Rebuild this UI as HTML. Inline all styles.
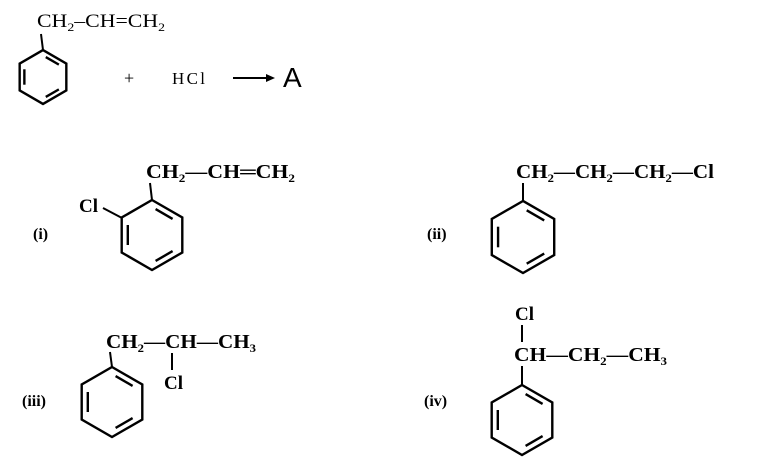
<!DOCTYPE html>
<html><head><meta charset="utf-8"><style>
html,body{margin:0;padding:0;background:#fff}
svg{display:block}
text{font-family:"Liberation Serif",serif;fill:#000}
</style></head><body>
<svg width="765" height="468" viewBox="0 0 765 468" xmlns="http://www.w3.org/2000/svg">
<defs>
<g id="bz" fill="none" stroke="#000" stroke-width="2.4">
<polygon points="0,-35 30.3,-17.5 30.3,17.5 0,35 -30.3,17.5 -30.3,-17.5" vector-effect="non-scaling-stroke"/>
<line x1="3.6" y1="-25.9" x2="20.6" y2="-16.1" vector-effect="non-scaling-stroke"/>
<line x1="-24.2" y1="-10" x2="-24.2" y2="10" vector-effect="non-scaling-stroke"/>
<line x1="20.6" y1="16.1" x2="3.6" y2="25.9" vector-effect="non-scaling-stroke"/>
</g>
</defs>
<g stroke="#000" stroke-width="2" fill="none">
<line x1="43" y1="50" x2="41" y2="34"/>
<line x1="233" y1="78" x2="268" y2="78"/>
<line x1="103" y1="208" x2="122" y2="218"/>
<line x1="152" y1="200" x2="150" y2="183"/>
<line x1="523" y1="201" x2="523" y2="183"/>
<line x1="112" y1="367" x2="110" y2="352"/>
<line x1="172" y1="353" x2="172" y2="370"/>
<line x1="522" y1="325" x2="522" y2="342"/>
<line x1="522" y1="385" x2="522" y2="366"/>
</g>
<polygon points="275,78 266,74 266,82" fill="#000"/>
<use href="#bz" transform="translate(43,77) scale(0.77)"/>
<use href="#bz" transform="translate(152,235)"/>
<use href="#bz" transform="translate(523,237) scale(1.03)"/>
<use href="#bz" transform="translate(112,402)"/>
<use href="#bz" transform="translate(522,420)"/>

<text x="37" y="27" font-size="19" textLength="128" lengthAdjust="spacingAndGlyphs">CH<tspan font-size="12" dy="4">2</tspan><tspan dy="-4">–CH=CH</tspan><tspan font-size="12" dy="4">2</tspan></text>
<text x="124" y="84" font-size="18">+</text>
<text x="172" y="84" font-size="17" textLength="33">HCl</text>
<text x="283" y="87" font-size="28" style="font-family:'Liberation Sans',sans-serif">A</text>

<text x="146" y="178" font-size="20" font-weight="bold" textLength="149" lengthAdjust="spacingAndGlyphs">CH<tspan font-size="12" dy="4">2</tspan><tspan dy="-4">—CH═CH</tspan><tspan font-size="12" dy="4">2</tspan></text>
<text x="79" y="212" font-size="19" font-weight="bold">Cl</text>
<text x="33" y="239" font-size="16" font-weight="bold">(i)</text>

<text x="516" y="178" font-size="20" font-weight="bold" textLength="198" lengthAdjust="spacingAndGlyphs">CH<tspan font-size="12" dy="4">2</tspan><tspan dy="-4">—CH</tspan><tspan font-size="12" dy="4">2</tspan><tspan dy="-4">—CH</tspan><tspan font-size="12" dy="4">2</tspan><tspan dy="-4">—Cl</tspan></text>
<text x="427" y="239" font-size="16" font-weight="bold">(ii)</text>

<text x="106" y="348" font-size="20" font-weight="bold" textLength="150" lengthAdjust="spacingAndGlyphs">CH<tspan font-size="12" dy="4">2</tspan><tspan dy="-4">—CH—CH</tspan><tspan font-size="12" dy="4">3</tspan></text>
<text x="164" y="389" font-size="19" font-weight="bold">Cl</text>
<text x="22" y="406" font-size="16" font-weight="bold">(iii)</text>

<text x="515" y="320" font-size="19" font-weight="bold">Cl</text>
<text x="514" y="361" font-size="20" font-weight="bold" textLength="153" lengthAdjust="spacingAndGlyphs">CH—CH<tspan font-size="12" dy="4">2</tspan><tspan dy="-4">—CH</tspan><tspan font-size="12" dy="4">3</tspan></text>
<text x="424" y="406" font-size="16" font-weight="bold">(iv)</text>
</svg>
</body></html>
